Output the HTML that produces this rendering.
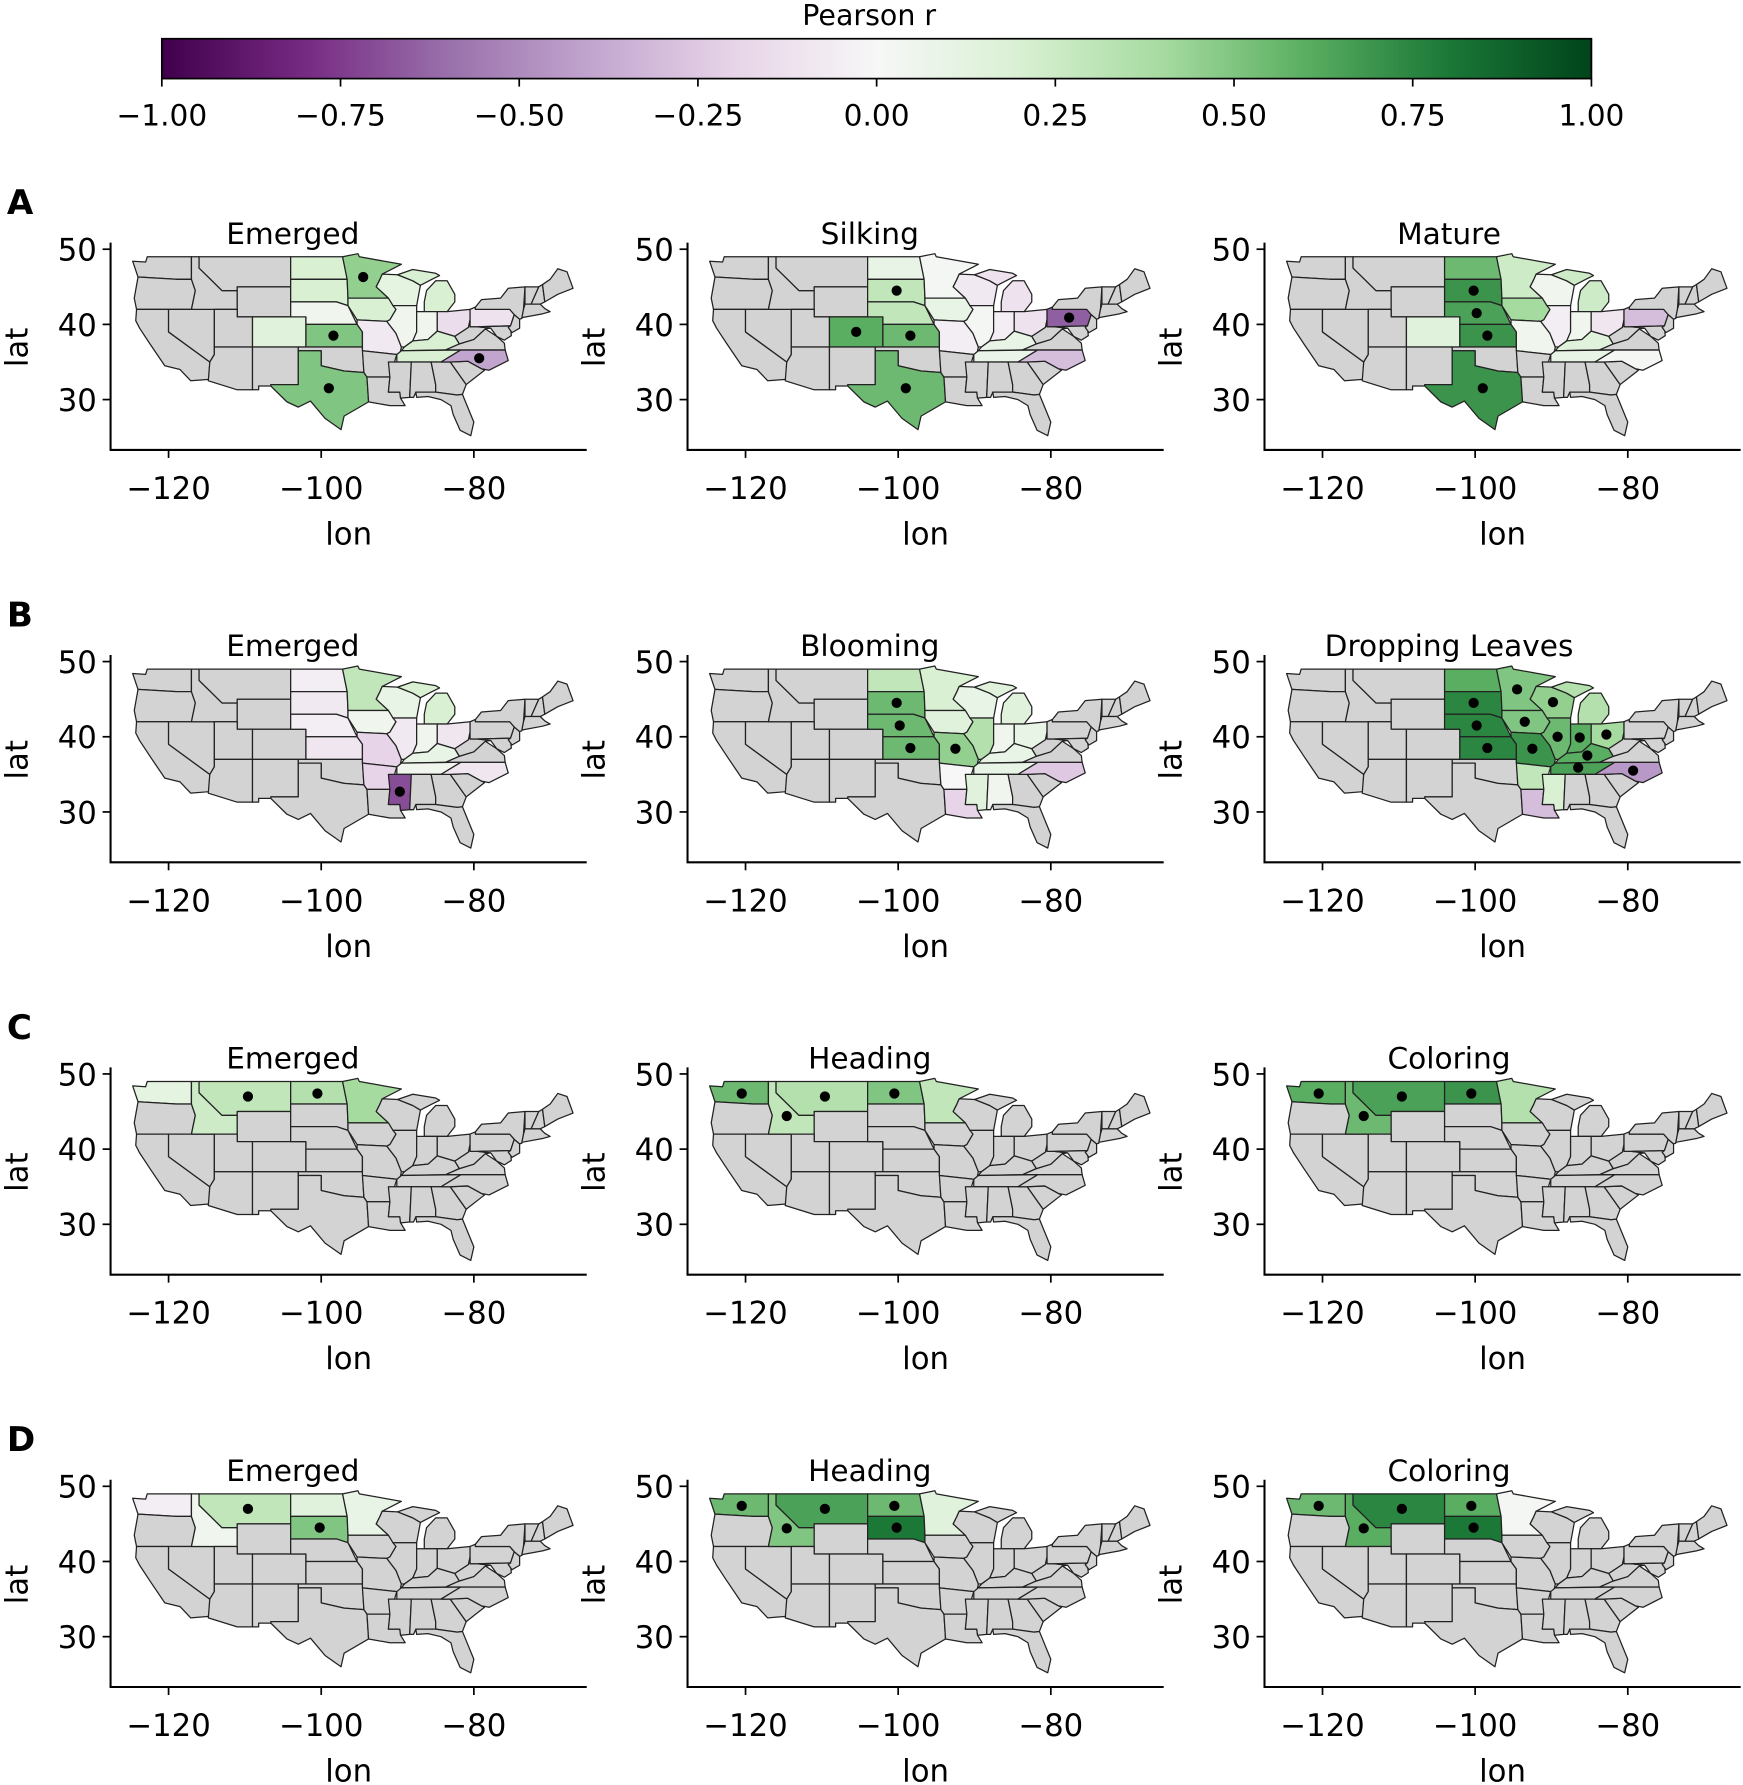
<!DOCTYPE html>
<html><head><meta charset="utf-8"><style>
html,body{margin:0;padding:0;background:#fff;}
svg{display:block;font-family:"DejaVu Sans","Liberation Sans",sans-serif;}
</style></head><body>
<svg id="fig" width="1743" height="1785" viewBox="0 0 1530 1567" xmlns="http://www.w3.org/2000/svg">
<defs>
<linearGradient id="prgn" x1="0" x2="1" y1="0" y2="0">
<stop offset="0" stop-color="#40004b"/><stop offset="0.1" stop-color="#762a83"/><stop offset="0.2" stop-color="#9970ab"/><stop offset="0.3" stop-color="#c2a5cf"/><stop offset="0.4" stop-color="#e7d4e8"/><stop offset="0.5" stop-color="#f7f7f7"/><stop offset="0.6" stop-color="#d9f0d3"/><stop offset="0.7" stop-color="#a6dba0"/><stop offset="0.8" stop-color="#5aae61"/><stop offset="0.9" stop-color="#1b7837"/><stop offset="1" stop-color="#00441b"/>
</linearGradient>
</defs>
<g>
<text x="763" y="22" font-size="25" text-anchor="middle">Pearson r</text>
<rect x="142" y="34" width="1255" height="35" fill="url(#prgn)" stroke="#000" stroke-width="1.5"/>
<g id="cbticks"></g>
</g>
<g id="panels"></g>
</svg>
<script>
const cbTicks=[-1,-0.75,-0.5,-0.25,0,0.25,0.5,0.75,1];
const panelTitles=["Emerged","Silking","Mature","Emerged","Blooming","Dropping Leaves","Emerged","Heading","Coloring","Emerged","Heading","Coloring"];
const rowLetters=["A","B","C","D"];
const lonTicks=[-120,-100,-80];
const latTicks=[30,40,50];

const statesA1=["MN","ND","SD","NE","KS","CO","TX","WI","MI","IA","IL","IN","OH","KY","MO","TN","PA","NC"];
const valuesA1=[0.45,0.2,0.2,0.05,0.5,0.15,0.5,0.12,0.2,0.2,0.05,0.05,-0.15,0.2,-0.08,0.2,-0.12,-0.4];
const dotsA1=["MN","KS","TX","NC"];
const statesA2=["ND","SD","NE","KS","CO","TX","MN","WI","MI","IA","IL","IN","OH","MO","KY","TN","NC","PA"];
const valuesA2=[0.1,0.3,0.3,0.55,0.6,0.55,0.03,-0.08,-0.12,0.1,0.03,-0.05,-0.12,-0.05,0.1,0.08,-0.3,-0.65];
const dotsA2=["SD","CO","KS","TX","PA"];
const statesA3=["ND","SD","NE","KS","CO","TX","MN","WI","MI","IA","IL","IN","OH","MO","KY","TN","NC","PA"];
const valuesA3=[0.55,0.7,0.65,0.7,0.15,0.7,0.25,0.05,0.25,0.4,-0.05,0.05,-0.1,0.05,0.15,0.1,0.03,-0.3];
const dotsA3=["SD","NE","KS","TX"];
const statesB1=["ND","SD","NE","KS","MN","WI","MI","IA","IL","MO","AR","MS","OH","IN","KY","TN","NC"];
const valuesB1=[-0.05,-0.08,-0.05,-0.1,0.3,0.1,0.2,0.05,-0.08,-0.2,-0.2,-0.7,-0.1,0.05,0.1,0.05,-0.1];
const dotsB1=["MS"];
const statesB2=["ND","SD","NE","KS","MN","WI","MI","IA","IL","MO","OH","IN","KY","AR","LA","MS","TN","AL","NC"];
const valuesB2=[0.3,0.55,0.55,0.55,0.2,0.1,0.15,0.15,0.35,0.45,0.1,0.05,0.1,0.0,-0.2,0.15,0.1,0.05,-0.25];
const dotsB2=["SD","NE","KS","MO"];
const statesB3=["ND","SD","NE","KS","MO","MN","IA","WI","IL","IN","OH","KY","TN","MI","AR","MS","LA","NC"];
const valuesB3=[0.6,0.75,0.75,0.75,0.7,0.5,0.5,0.45,0.55,0.6,0.4,0.6,0.65,0.35,0.3,0.2,-0.3,-0.45];
const dotsB3=["SD","NE","KS","MN","IA","WI","IL","MO","IN","OH","KY","TN","NC"];
const statesC1=["WA","ID","MT","ND","MN"];
const valuesC1=[0.12,0.25,0.3,0.35,0.4];
const dotsC1=["MT","ND"];
const statesC2=["WA","ID","MT","ND","MN"];
const valuesC2=[0.55,0.3,0.35,0.5,0.3];
const dotsC2=["WA","ID","MT","ND"];
const statesC3=["WA","ID","MT","ND","MN"];
const valuesC3=[0.6,0.55,0.65,0.7,0.35];
const dotsC3=["WA","ID","MT","ND"];
const statesD1=["WA","ID","MT","ND","SD","MN"];
const valuesD1=[-0.05,0.05,0.3,0.15,0.5,0.1];
const dotsD1=["MT","SD"];
const statesD2=["WA","ID","MT","ND","SD","MN"];
const valuesD2=[0.55,0.5,0.65,0.55,0.8,0.15];
const dotsD2=["WA","ID","MT","ND","SD"];
const statesD3=["WA","ID","MT","ND","SD","MN"];
const valuesD3=[0.55,0.6,0.75,0.6,0.8,0.02];
const dotsD3=["WA","ID","MT","ND","SD"];

const panelStates=[statesA1,statesA2,statesA3,statesB1,statesB2,statesB3,statesC1,statesC2,statesC3,statesD1,statesD2,statesD3];
const panelValues=[valuesA1,valuesA2,valuesA3,valuesB1,valuesB2,valuesB3,valuesC1,valuesC2,valuesC3,valuesD1,valuesD2,valuesD3];
const panelDots=[dotsA1,dotsA2,dotsA3,dotsB1,dotsB2,dotsB3,dotsC1,dotsC2,dotsC3,dotsD1,dotsD2,dotsD3];

// geometry (lon,lat)
const GEO={
WA:[[-124.7,48.4],[-123,48.3],[-122.8,49],[-117,49],[-117,46],[-119,46],[-124,46.3]],
OR:[[-124,46.3],[-119,46],[-117,46],[-116.5,44.5],[-117,42],[-124.2,42],[-124.5,43.5]],
CA:[[-124.2,42],[-120,42],[-120,39],[-114.6,35],[-114.7,32.7],[-117.1,32.5],[-118.5,34],[-120.5,34.5],[-122.5,37.5],[-123.8,39.5],[-124.3,40.5]],
NV:[[-120,42],[-114,42],[-114,36],[-114.6,35],[-120,39]],
ID:[[-117,49],[-116,49],[-116,47.5],[-114.5,46],[-113,44.5],[-111,44.5],[-111,42],[-117,42],[-116.5,44.5],[-117,46]],
MT:[[-116,49],[-104,49],[-104,45],[-111,45],[-111,44.5],[-113,44.5],[-114.5,46],[-116,47.5]],
WY:[[-111,45],[-104,45],[-104,41],[-111,41]],
UT:[[-114,42],[-111,42],[-111,41],[-109,41],[-109,37],[-114,37]],
CO:[[-109,41],[-102,41],[-102,37],[-109,37]],
AZ:[[-114,37],[-109,37],[-109,31.3],[-111,31.3],[-114.8,32.5],[-114.6,35],[-114,36]],
NM:[[-109,37],[-103,37],[-103,32],[-106.6,32],[-106.5,31.8],[-108.2,31.8],[-108.2,31.3],[-109,31.3]],
ND:[[-104,49],[-97.2,49],[-96.6,46],[-104,46]],
SD:[[-104,46],[-96.6,46],[-96.5,43.5],[-96.5,42.5],[-98,43],[-104,43]],
NE:[[-104,43],[-98,43],[-96.5,42.5],[-95.3,40],[-102,40],[-102,41],[-104,41]],
KS:[[-102,40],[-95.3,40],[-94.6,39],[-94.6,37],[-102,37]],
OK:[[-103,37],[-94.6,37],[-94.4,33.6],[-97,33.8],[-100,34.5],[-100,36.5],[-103,36.5]],
TX:[[-106.6,32],[-103,32],[-103,36.5],[-100,36.5],[-100,34.5],[-97,33.8],[-94.4,33.6],[-94,33],[-93.8,29.7],[-97,27.8],[-97.4,26],[-99.5,27.5],[-101.4,29.8],[-103,29],[-104.5,29.7],[-106.6,31.8]],
MN:[[-97.2,49],[-95.2,49.4],[-95,49],[-89.5,48],[-92,46.7],[-92.3,46],[-92.8,45],[-91.2,43.5],[-96.5,43.5],[-96.6,46]],
IA:[[-96.5,43.5],[-91.2,43.5],[-90.2,42],[-91,40.6],[-91.4,40.4],[-95.3,40.6],[-96.5,42.5]],
MO:[[-95.3,40.6],[-91.4,40.4],[-90.2,38.8],[-89.5,37],[-89.7,36],[-90.1,36],[-94.6,36.5],[-94.6,39],[-95.3,40]],
AR:[[-94.6,36.5],[-90.1,36],[-91,33],[-94,33],[-94.4,33.6]],
LA:[[-94,33],[-91,33],[-91.2,31],[-89.7,31],[-89.6,30.2],[-89,29.2],[-91,29.2],[-93.8,29.7]],
WI:[[-92.8,45],[-92.3,46],[-92,46.7],[-90,46.6],[-88,45.8],[-87,45.2],[-87.5,42.5],[-90.6,42.5],[-91.2,43.5]],
IL:[[-90.6,42.5],[-87.5,42.5],[-87.5,39],[-88,37.8],[-89.1,37],[-89.5,37],[-90.2,38.8],[-91.4,40.4],[-91,40.6],[-90.2,42]],
MI:[[-86.5,41.7],[-83.5,41.7],[-82.5,43],[-82.5,44],[-83.5,45.8],[-85,45.8],[-86.2,44.5],[-86.5,43]],
MIU:[[-90,46.6],[-88,45.8],[-87,45.2],[-85.5,46],[-84.5,46.5],[-85,46.8],[-88,47.3]],
IN:[[-87.5,41.7],[-84.8,41.7],[-84.8,39.1],[-86,38],[-88,37.8],[-87.5,39]],
OH:[[-84.8,41.7],[-83.5,41.7],[-80.5,42],[-80.5,40.6],[-80.7,39.6],[-82.5,38.4],[-84.8,39.1]],
KY:[[-89.5,36.5],[-83.7,36.6],[-81.9,37.4],[-82.5,38.4],[-84.8,39.1],[-86,38],[-88,37.8],[-89.1,37]],
TN:[[-90.1,35],[-90.1,36],[-89.5,36.5],[-81.7,36.6],[-84.3,35]],
MS:[[-91.2,35],[-88.2,35],[-88.4,30.3],[-89.6,30.2],[-89.7,31],[-91.2,31],[-91,33]],
AL:[[-88.2,35],[-85.6,35],[-85,32],[-85,31],[-87.6,31],[-87.9,30.3],[-88.4,30.3]],
GA:[[-85.6,35],[-83.1,35],[-81,32],[-81.5,30.7],[-82.2,30.6],[-85,31],[-85,32]],
FL:[[-87.6,31],[-85,31],[-82.2,30.6],[-81.5,30.7],[-80,27],[-80.4,25.2],[-81.8,25.9],[-82.7,28],[-83,29.2],[-84.3,30],[-86,30.4],[-87.5,30.3]],
SC:[[-83.1,35],[-80.8,35.1],[-79,34.1],[-78.6,33.9],[-81,32]],
NC:[[-84.3,35],[-81.7,36.6],[-75.9,36.6],[-75.5,35.2],[-78,33.9],[-79,34.1],[-80.8,35.1],[-83.1,35]],
VA:[[-83.7,36.6],[-75.9,36.6],[-76,37.5],[-77,38.4],[-78.5,39.4],[-80,38],[-81.9,37.4]],
WV:[[-82.5,38.4],[-81.9,37.4],[-80,38],[-78.5,39.4],[-77.8,39.5],[-79.5,39.7],[-80.5,39.7],[-80.5,40.6],[-80.7,39.6]],
PA:[[-80.5,42],[-79.8,42.3],[-79.8,42],[-75.3,42],[-74.7,41.3],[-75.2,39.8],[-79.5,39.7],[-80.5,39.7]],
MD:[[-79.5,39.7],[-75.2,39.8],[-75.1,38.5],[-76,37.9],[-77,38.4],[-77.8,39.5]],
NJ:[[-74.7,41.3],[-74,40.7],[-74,39.5],[-75,38.9],[-75.5,39.6],[-75.2,39.8]],
NY:[[-79.8,42],[-79.8,42.3],[-79,43.3],[-76.5,43.5],[-75.5,44.8],[-73.3,45],[-73.5,42],[-73.7,40.8],[-74,40.7],[-74.7,41.3],[-75.3,42]],
VT:[[-73.3,45],[-71.5,45],[-72.5,42.7],[-73.3,42.7]],
NH:[[-71.5,45],[-71,45.3],[-70.7,43],[-71.3,42.7],[-72.5,42.7]],
ME:[[-71,45.3],[-70.7,43],[-69,44],[-67,44.8],[-67.8,47],[-69,47.4],[-70,46]],
MA:[[-73.5,42],[-73.3,42.7],[-71.3,42.7],[-70.7,42.1],[-70,41.7],[-71,41.4],[-73.7,40.9]]
};
const CENT={MN:[-94.5,46.3],ND:[-100.5,47.4],SD:[-100.2,44.5],NE:[-99.8,41.5],KS:[-98.4,38.5],CO:[-105.5,39],TX:[-99,31.5],NC:[-79.3,35.5],PA:[-77.6,40.9],MS:[-89.7,32.7],MO:[-92.5,38.4],IA:[-93.5,42],WI:[-89.8,44.6],IL:[-89.2,40],IN:[-86.3,39.9],OH:[-82.8,40.3],KY:[-85.3,37.5],TN:[-86.5,35.9],WA:[-120.5,47.4],ID:[-114.6,44.4],MT:[-109.6,47]};

const stops=["#40004b","#762a83","#9970ab","#c2a5cf","#e7d4e8","#f7f7f7","#d9f0d3","#a6dba0","#5aae61","#1b7837","#00441b"];
function hex(h){return [1,3,5].map(i=>parseInt(h.substr(i,2),16));}
function cmap(v){let t=(v+1)/2*10;t=Math.max(0,Math.min(10,t));const i=Math.min(9,Math.floor(t)),f=t-i;const a=hex(stops[i]),b=hex(stops[i+1]);return "rgb("+a.map((x,k)=>Math.round(x+(b[k]-x)*f)).join(",")+")";}

const NS="http://www.w3.org/2000/svg";
function mk(tag,attrs,parent){const e=document.createElementNS(NS,tag);for(const k in attrs)e.setAttribute(k,attrs[k]);parent.appendChild(e);return e;}

// colorbar ticks
const cbg=document.getElementById("cbticks");
function cbX(v){return 142+(v+1)/2*1255;}
cbTicks.forEach(v=>{
  const l=mk("line",{x1:cbX(v),x2:cbX(v),y1:69,y2:76,stroke:"#000","stroke-width":1.5},cbg);
  
  
  const t=mk("text",{x:cbX(v),y:110,"font-size":26,"text-anchor":"middle"},cbg);
  t.textContent=(v<0?"\u2212":"")+Math.abs(v).toFixed(2);
  
  
});

const root=document.getElementById("panels");
for(let p=0;p<12;p++){
  const row=Math.floor(p/3),col=p%3;
  const ox=col*506.5,oy=row*362;
  const X=lon=>ox+97+(lon+127.6)*6.7;
  const Y=lat=>oy+395-(lat-23.3)*6.6;
  const g=mk("g",{},root);
  
  
  const vmap={};panelStates[p].forEach((s,i)=>vmap[s]=panelValues[p][i]);
  for(const s in GEO){
    const key=s==="MIU"?"MI":s;
    const fill=(key in vmap)?cmap(vmap[key]):"#d3d3d3";
    const pts=GEO[s].map(c=>X(c[0]).toFixed(1)+","+Y(c[1]).toFixed(1)).join(" ");
    const poly=mk("polygon",{points:pts,fill:fill,stroke:"#222","stroke-width":1.1,"stroke-linejoin":"round"},g);
    
    
  }
  panelDots[p].forEach(s=>{
    const c=mk("circle",{cx:X(CENT[s][0]),cy:Y(CENT[s][1]),r:4.5,fill:"#000"},g);
    
    
  });
  // axes
  const ax=mk("path",{d:`M${ox+97},${oy+213} L${ox+97},${oy+395} L${ox+515},${oy+395}`,fill:"none",stroke:"#000","stroke-width":1.8},g);
  
  
  lonTicks.forEach(v=>{
    const l=mk("line",{x1:X(v),x2:X(v),y1:oy+395,y2:oy+402,stroke:"#000","stroke-width":1.5},g);
    
    
    const t=mk("text",{x:X(v),y:oy+438,"font-size":27,"text-anchor":"middle"},g);
    t.textContent="\u2212"+Math.abs(v);
    
    
  });
  latTicks.forEach(v=>{
    const l=mk("line",{x1:ox+90,x2:ox+97,y1:Y(v),y2:Y(v),stroke:"#000","stroke-width":1.5},g);
    
    
    const t=mk("text",{x:ox+85,y:Y(v)+10,"font-size":27,"text-anchor":"end"},g);
    t.textContent=v;
    
    
  });
  const xl=mk("text",{x:ox+306,y:oy+478,"font-size":27,"text-anchor":"middle"},g);
  xl.textContent="lon";
  
  
  const yl=mk("text",{x:0,y:0,"font-size":27,"text-anchor":"middle",transform:`translate(${ox+24},${oy+305}) rotate(-90)`},g);
  yl.textContent="lat";
  
  
  const tt=mk("text",{x:ox+257+(col===2?2:0),y:oy+214,"font-size":26,"text-anchor":"middle"},g);
  tt.textContent=panelTitles[p];
  
  
  if(col===0){
    const L=mk("text",{x:6,y:oy+188,"font-size":30,"font-weight":"bold"},g);
    L.textContent=rowLetters[row];
    
    
  }
}
</script>
</body></html>
